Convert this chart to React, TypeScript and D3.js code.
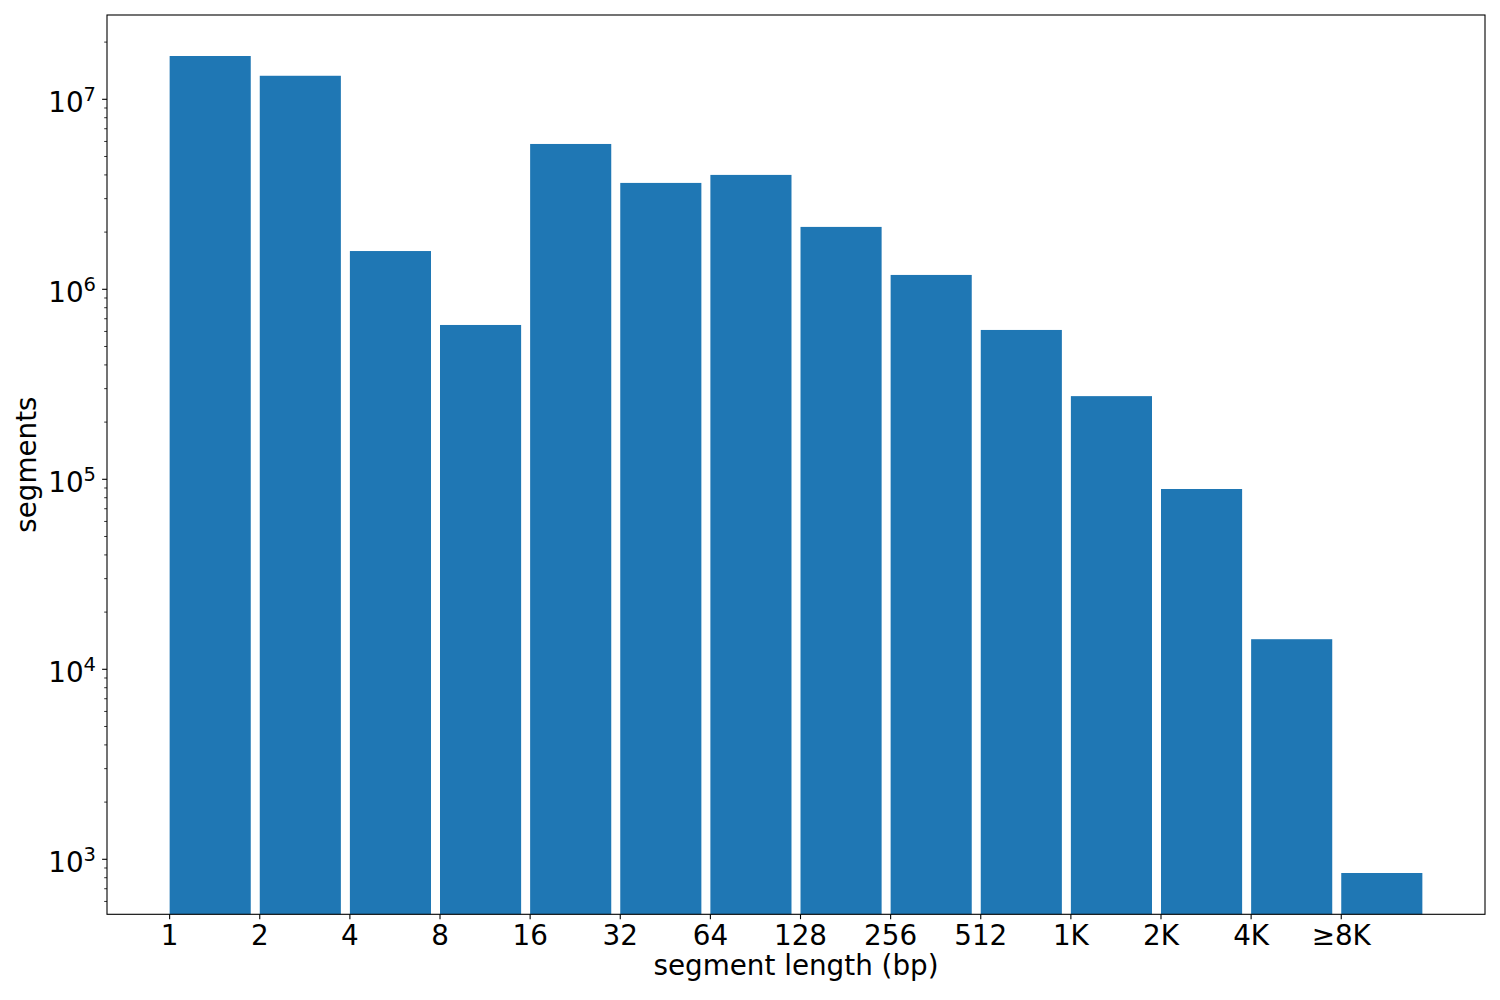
import React from "react";
import * as d3 from "d3";

const categories: string[] = ["1", "2", "4", "8", "16", "32", "64", "128", "256", "512", "1K", "2K", "4K", "≥8K"];
const segmentCounts: number[] = [
  1.69e7, 1.33e7, 1.59e6, 6.49e5, 5.82e6, 3.63e6, 4.0e6, 2.13e6, 1.19e6, 6.11e5, 2.74e5, 8.89e4, 1.44e4, 847,
];
const yMajorExps: number[] = [3, 4, 5, 6, 7];

const W = 1500;
const H = 1000;
const left = 107;
const right = 1485;
const top = 15;
const bottom = 914.3;
const barColor = "#1f77b4";
const font = "'DejaVu Sans', sans-serif";
const fs = 27.8;

export default function App() {
  const n = categories.length;
  const barW = 0.9;
  const pad = (n - 1 + barW) * 0.05;
  const x = d3.scaleLinear().domain([-pad, n - 1 + barW + pad]).range([left, right]);
  const y = d3.scaleLog().domain([Math.pow(10, 2.7105), Math.pow(10, 7.4437)]).range([bottom, top]);

  const minorTicks: number[] = [];
  for (let e = 2; e <= 7; e++) {
    for (let m = 2; m <= 9; m++) {
      const v = m * Math.pow(10, e);
      const [lo, hi] = y.domain();
      if (v >= lo && v <= hi) minorTicks.push(v);
    }
  }

  return (
    <svg
      width={W}
      height={H}
      style={{ position: "absolute", left: 0, top: 0, background: "white" }}
      fontFamily={font}
    >
      <rect x={0} y={0} width={W} height={H} fill="white" />
      {segmentCounts.map((v, i) => (
        <rect
          key={i}
          x={x(i)}
          y={y(v)}
          width={x(i + barW) - x(i)}
          height={bottom - y(v)}
          fill={barColor}
        />
      ))}
      {/* spines */}
      <rect x={left} y={top} width={right - left} height={bottom - top} fill="none" stroke="black" strokeWidth={1.1} />
      {/* x ticks */}
      {categories.map((c, i) => (
        <g key={c} transform={`translate(${x(i)},${bottom})`}>
          <line y1={0} y2={4.9} stroke="black" strokeWidth={1.1} />
          <text y={31} textAnchor="middle" fontSize={fs} fill="black">
            {c}
          </text>
        </g>
      ))}
      {/* y major ticks */}
      {yMajorExps.map((e) => {
        const yy = y(Math.pow(10, e));
        return (
          <g key={e} transform={`translate(${left},${yy})`}>
            <line x1={0} x2={-4.9} stroke="black" strokeWidth={1.1} />
            <text x={-11} y={12.7} textAnchor="end" fontSize={fs} fill="black">
              10
              <tspan dy={-11} fontSize={19.5}>
                {e}
              </tspan>
            </text>
          </g>
        );
      })}
      {/* y minor ticks */}
      {minorTicks.map((v) => (
        <line key={v} x1={left} x2={left - 2.8} y1={y(v)} y2={y(v)} stroke="black" strokeWidth={0.8} />
      ))}
      {/* axis labels */}
      <text x={(left + right) / 2} y={975} textAnchor="middle" fontSize={fs} fill="black">
        segment length (bp)
      </text>
      <text
        transform={`translate(36,${(top + bottom) / 2}) rotate(-90)`}
        textAnchor="middle"
        fontSize={fs}
        fill="black"
      >
        segments
      </text>
    </svg>
  );
}
